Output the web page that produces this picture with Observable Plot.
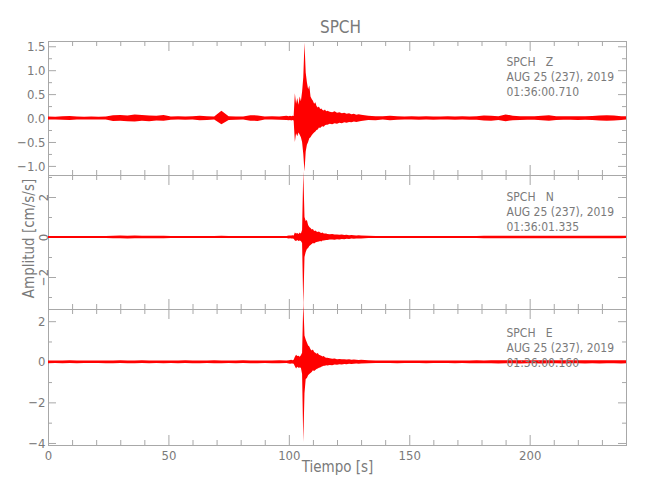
<!DOCTYPE html>
<html>
<head>
<meta charset="utf-8">
<script src="https://cdn.jsdelivr.net/npm/d3@7"></script>
<script src="https://cdn.jsdelivr.net/npm/@observablehq/plot@0.6"></script>
<style>
  body { margin: 0; background: #fff; }
  #chart { position: relative; width: 650px; height: 500px; overflow: hidden; background: #fff; }
  #chart svg { position: absolute; left: 0; }
</style>
</head>
<body>
<div id="chart"></div>
<script>
// ---------- data ----------
const title = "SPCH";
const xLabel = "Tiempo [s]";
const yLabel = "Amplitud [cm/s/s]";
const notes = {
  Z: "SPCH   Z\nAUG 25 (237), 2019\n01:36:00.710",
  N: "SPCH   N\nAUG 25 (237), 2019\n01:36:01.335",
  E: "SPCH   E\nAUG 25 (237), 2019\n01:36:00.160"
};

const xMajor = [0, 50, 100, 150, 200];
const xMinor = [10, 20, 30, 40, 60, 70, 80, 90, 110, 120, 130, 140, 160, 170, 180, 190, 210, 220, 230, 240];
const zMajor = [-1, -0.5, 0, 0.5, 1, 1.5];
const zMinor = [-0.75, -0.25, 0.25, 0.75, 1.25];
const nMajor = [-2, 0, 2];
const nMinor = [-3, -1, 1, 3];
const eMajor = [-4, -2, 0, 2];
const eMinor = [-3, -1, 1];

// time (s) of each envelope sample
const tSec = [
  0,3,6,9,12,15,18,21,24,27,30,33,36,39,42,45,48,51,54,57,60,63,66,69,72,75,78,81,84,87,90,93,96,99,
  100,100.5,101,101.5,102,102.5,103,103.5,104,104.5,105,105.5,106,106.5,107,107.5,108,108.5,109,109.5,110,110.5,111,111.5,112,112.5,113,113.5,114,114.5,115,115.5,116,
  117,118,119,120,121,122,123,124,125,126,127,128,129,130,
  133,136,139,142,145,148,151,154,157,160,163,166,169,172,175,178,181,184,187,190,193,196,199,202,205,208,211,214,217,220,223,226,229,232,235,238,240
];

// Z component: upper / lower envelope
const zHi = [
  0.03,0.028,0.04,0.045,0.03,0.028,0.032,0.028,0.032,0.06,0.065,0.055,0.075,0.065,0.055,0.05,0.065,0.032,0.04,0.032,0.036,0.05,0.04,0.032,0.15,0.04,0.032,0.032,0.06,0.055,0.032,0.036,0.032,0.05,
  0.04,0.05,0.04,0.05,0.045,0.52,0.3,0.42,0.28,0.45,0.35,0.55,0.85,1.58,0.95,0.75,0.6,0.68,0.45,0.4,0.36,0.3,0.33,0.25,0.22,0.24,0.19,0.2,0.17,0.16,0.18,0.14,0.15,
  0.13,0.12,0.14,0.11,0.12,0.1,0.11,0.09,0.1,0.08,0.09,0.07,0.08,0.07,
  0.05,0.04,0.036,0.05,0.036,0.032,0.036,0.032,0.036,0.032,0.032,0.036,0.032,0.036,0.032,0.04,0.055,0.05,0.04,0.075,0.05,0.04,0.036,0.04,0.05,0.06,0.04,0.036,0.04,0.036,0.04,0.045,0.055,0.06,0.055,0.04,0.036
];
const zLo = [
  -0.028,-0.032,-0.036,-0.04,-0.028,-0.032,-0.028,-0.032,-0.028,-0.06,-0.055,-0.065,-0.07,-0.055,-0.065,-0.05,-0.055,-0.036,-0.032,-0.036,-0.032,-0.045,-0.04,-0.032,-0.13,-0.04,-0.036,-0.032,-0.055,-0.06,-0.032,-0.032,-0.036,-0.04,
  -0.045,-0.04,-0.05,-0.04,-0.05,-0.5,-0.32,-0.38,-0.3,-0.35,-0.4,-0.5,-0.75,-1.12,-0.7,-0.56,-0.5,-0.42,-0.4,-0.36,-0.33,-0.3,-0.28,-0.25,-0.24,-0.2,-0.21,-0.18,-0.17,-0.18,-0.15,-0.14,-0.14,
  -0.12,-0.13,-0.11,-0.12,-0.1,-0.11,-0.09,-0.1,-0.08,-0.09,-0.07,-0.08,-0.07,-0.06,
  -0.04,-0.045,-0.032,-0.045,-0.036,-0.032,-0.032,-0.036,-0.032,-0.036,-0.032,-0.032,-0.036,-0.032,-0.036,-0.036,-0.05,-0.055,-0.04,-0.065,-0.045,-0.04,-0.036,-0.036,-0.045,-0.055,-0.04,-0.036,-0.036,-0.04,-0.036,-0.04,-0.05,-0.055,-0.05,-0.04,-0.032
];

// N component
const nHi = [
  0.052,0.045,0.052,0.048,0.045,0.052,0.045,0.048,0.052,0.068,0.075,0.068,0.075,0.064,0.068,0.06,0.064,0.052,0.048,0.052,0.045,0.052,0.048,0.052,0.06,0.048,0.045,0.052,0.056,0.052,0.048,0.052,0.045,0.052,
  0.07,0.08,0.07,0.09,0.08,0.22,0.18,0.2,0.15,0.22,0.18,0.35,3.3,1.0,0.8,0.85,0.6,0.5,0.45,0.38,0.4,0.3,0.32,0.27,0.25,0.27,0.22,0.2,0.22,0.18,0.17,0.18,0.15,
  0.14,0.15,0.12,0.13,0.11,0.12,0.1,0.11,0.09,0.1,0.09,0.08,0.09,0.08,
  0.06,0.052,0.056,0.052,0.048,0.052,0.048,0.052,0.045,0.052,0.048,0.052,0.048,0.052,0.052,0.056,0.06,0.064,0.06,0.068,0.064,0.06,0.068,0.064,0.06,0.068,0.064,0.068,0.06,0.064,0.068,0.06,0.064,0.068,0.06,0.064,0.06
];
const nLo = [
  -0.048,-0.052,-0.045,-0.052,-0.048,-0.045,-0.052,-0.045,-0.048,-0.064,-0.068,-0.075,-0.068,-0.068,-0.064,-0.06,-0.068,-0.048,-0.052,-0.045,-0.052,-0.048,-0.052,-0.045,-0.056,-0.052,-0.048,-0.045,-0.052,-0.056,-0.045,-0.048,-0.052,-0.048,
  -0.07,-0.065,-0.08,-0.07,-0.09,-0.18,-0.2,-0.15,-0.2,-0.17,-0.2,-0.3,-3.45,-1.0,-0.75,-0.6,-0.55,-0.45,-0.4,-0.35,-0.3,-0.32,-0.27,-0.25,-0.24,-0.22,-0.2,-0.22,-0.18,-0.17,-0.16,-0.15,-0.15,
  -0.13,-0.12,-0.14,-0.11,-0.12,-0.1,-0.11,-0.09,-0.1,-0.08,-0.09,-0.08,-0.07,-0.08,
  -0.056,-0.052,-0.048,-0.052,-0.052,-0.048,-0.052,-0.048,-0.052,-0.048,-0.052,-0.048,-0.052,-0.048,-0.056,-0.052,-0.06,-0.06,-0.064,-0.06,-0.068,-0.064,-0.06,-0.068,-0.064,-0.06,-0.068,-0.064,-0.068,-0.06,-0.064,-0.068,-0.06,-0.064,-0.068,-0.06,-0.056
];

// E component
const eHi = [
  0.064,0.068,0.064,0.072,0.064,0.068,0.064,0.06,0.064,0.068,0.072,0.064,0.068,0.072,0.064,0.068,0.064,0.068,0.064,0.072,0.068,0.064,0.068,0.072,0.064,0.068,0.064,0.072,0.068,0.064,0.068,0.064,0.072,0.068,
  0.08,0.09,0.1,0.08,0.1,0.25,0.35,0.28,0.3,0.25,0.32,0.45,2.95,1.3,1.1,0.95,0.8,0.75,0.62,0.55,0.6,0.48,0.45,0.4,0.43,0.35,0.32,0.3,0.26,0.28,0.22,0.2,0.2,
  0.17,0.15,0.16,0.13,0.14,0.12,0.13,0.11,0.12,0.1,0.11,0.1,0.09,0.1,
  0.072,0.064,0.068,0.064,0.06,0.064,0.068,0.064,0.06,0.064,0.068,0.064,0.064,0.068,0.064,0.072,0.068,0.072,0.076,0.08,0.072,0.076,0.08,0.072,0.076,0.08,0.076,0.072,0.08,0.076,0.072,0.08,0.076,0.08,0.072,0.076,0.072
];
const eLo = [
  -0.068,-0.064,-0.072,-0.064,-0.068,-0.064,-0.06,-0.064,-0.068,-0.072,-0.064,-0.068,-0.072,-0.064,-0.068,-0.064,-0.072,-0.064,-0.068,-0.064,-0.072,-0.068,-0.064,-0.068,-0.072,-0.064,-0.068,-0.064,-0.072,-0.068,-0.064,-0.072,-0.068,-0.064,
  -0.08,-0.1,-0.08,-0.09,-0.1,-0.22,-0.33,-0.25,-0.3,-0.28,-0.3,-0.6,-3.95,-1.55,-0.85,-0.8,-0.66,-0.6,-0.55,-0.5,-0.42,-0.45,-0.4,-0.35,-0.33,-0.3,-0.28,-0.25,-0.22,-0.2,-0.2,-0.17,-0.18,
  -0.16,-0.17,-0.14,-0.15,-0.12,-0.13,-0.11,-0.12,-0.1,-0.11,-0.1,-0.09,-0.1,-0.09,
  -0.068,-0.064,-0.06,-0.064,-0.068,-0.064,-0.06,-0.064,-0.068,-0.064,-0.06,-0.064,-0.068,-0.064,-0.068,-0.072,-0.072,-0.068,-0.08,-0.076,-0.072,-0.08,-0.076,-0.072,-0.08,-0.076,-0.072,-0.08,-0.076,-0.072,-0.08,-0.076,-0.08,-0.072,-0.076,-0.08,-0.072
];

// ---------- styling ----------
const RED = "#ff0000";
const LINE = "#a8a8a8";
const TEXT = "#7a7a7a";
const FONT = "'Liberation Sans Narrow', 'DejaVu Sans Condensed', 'Liberation Sans', sans-serif";
const W = 650, ML = 48, MR = 24, FW = W - ML - MR;

const rows = (hi, lo) => tSec.map((t, i) => ({t, hi: hi[i], lo: lo[i]}));
const minus = s => s.replace("-", "\u2212");
const fmt1 = d => minus(d.toFixed(1));
const fmt0 = d => minus(String(d));

function frameTicks(yMaj, yMin, fh) {
  const s = {stroke: LINE, strokeWidth: 1};
  return [
    Plot.ruleX(xMajor, {insetBottom: fh - 10, ...s}),
    Plot.ruleX(xMajor, {insetTop: fh - 10, ...s}),
    Plot.ruleX(xMinor, {insetBottom: fh - 5, ...s}),
    Plot.ruleX(xMinor, {insetTop: fh - 5, ...s}),
    Plot.ruleY(yMaj, {insetRight: FW - 8, ...s}),
    Plot.ruleY(yMaj, {insetLeft: FW - 8, ...s}),
    Plot.ruleY(yMin, {insetRight: FW - 4, ...s}),
    Plot.ruleY(yMin, {insetLeft: FW - 4, ...s})
  ];
}

const baseStyle = {overflow: "visible", background: "transparent", color: TEXT, fontFamily: FONT};
const noteOpts = (dy) => ({frameAnchor: "top-right", dx: -120, dy, textAnchor: "start", lineAnchor: "top",
  lineHeight: 1.27, fontSize: 12, fill: TEXT, text: d => d});

// ---------- Z panel ----------
const zPlot = Plot.plot({
  width: W, height: 175, marginTop: 41, marginBottom: 0, marginLeft: ML, marginRight: MR,
  style: baseStyle,
  x: {domain: [0, 240], axis: null},
  y: {domain: [-1.19, 1.61]},
  marks: [
    Plot.frame({stroke: LINE}),
    ...frameTicks(zMajor, zMinor, 134),
    Plot.axisY(zMajor, {tickSize: 0, tickPadding: 3, tickFormat: fmt1, fontSize: 13, label: null}),
    Plot.areaY(rows(zHi, zLo), {x: "t", y1: "lo", y2: "hi", fill: RED}),
    Plot.text([notes.Z], noteOpts(13.5)),
    Plot.text([title], {frameAnchor: "top", dx: 3, dy: -21, fontSize: 17, fill: TEXT, text: d => d})
  ]
});

// ---------- N panel ----------
const nPlot = Plot.plot({
  width: W, height: 134, marginTop: 0, marginBottom: 0, marginLeft: ML, marginRight: MR,
  style: baseStyle,
  x: {domain: [0, 240], axis: null},
  y: {domain: [-3.6, 3.1], axis: null},
  marks: [
    Plot.frame({stroke: LINE}),
    ...frameTicks(nMajor, nMinor, 134),
    Plot.text(nMajor, {frameAnchor: "left", y: d => d, text: fmt0, rotate: -90, dx: -1,
      textAnchor: "middle", lineAnchor: "bottom", fontSize: 13, fill: TEXT}),
    Plot.text([yLabel], {frameAnchor: "left", dx: -19, dy: -4, rotate: -90, textAnchor: "middle",
      fontSize: 15, fill: TEXT, text: d => d}),
    Plot.areaY(rows(nHi, nLo), {x: "t", y1: "lo", y2: "hi", fill: RED}),
    Plot.text([notes.N], noteOpts(14.5))
  ]
});

// ---------- E panel ----------
const ePlot = Plot.plot({
  width: W, height: 191, marginTop: 0, marginBottom: 55, marginLeft: ML, marginRight: MR,
  style: baseStyle,
  x: {domain: [0, 240]},
  y: {domain: [-4.1, 2.6]},
  marks: [
    Plot.frame({stroke: LINE}),
    ...frameTicks(eMajor, eMinor, 136),
    Plot.axisY(eMajor, {tickSize: 0, tickPadding: 3, tickFormat: fmt0, fontSize: 13, label: null}),
    Plot.axisX(xMajor, {tickSize: 0, tickPadding: 5, fontSize: 13, label: null}),
    Plot.text([xLabel], {frameAnchor: "bottom", dy: 26, fontSize: 15, fill: TEXT, text: d => d}),
    Plot.areaY(rows(eHi, eLo), {x: "t", y1: "lo", y2: "hi", fill: RED}),
    Plot.text([notes.E], noteOpts(16.5))
  ]
});

const chart = document.getElementById("chart");
[[zPlot, 0], [nPlot, 175], [ePlot, 309]].forEach(([svg, top]) => {
  svg.style.top = top + "px";
  chart.appendChild(svg);
});
</script>
</body>
</html>
